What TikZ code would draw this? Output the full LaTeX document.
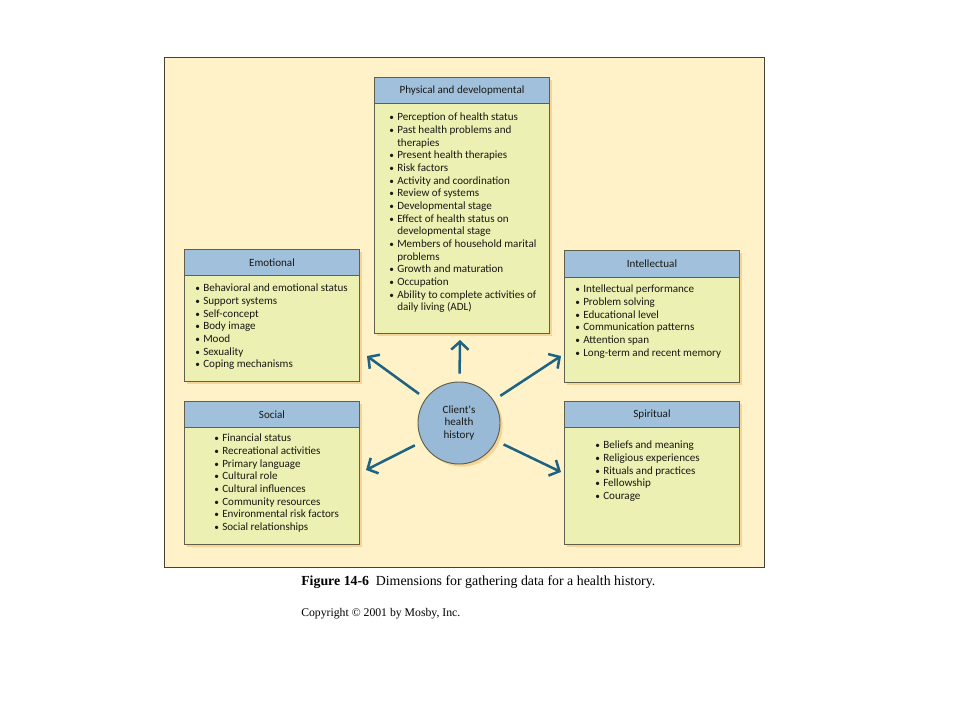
\documentclass[tikz,border=0pt]{standalone}
\usepackage{fontspec}
\setmainfont{Liberation Serif}
\newfontfamily\fut{Carlito}
\usetikzlibrary{arrows.meta,shadows}
\definecolor{bg}{RGB}{255,242,200}
\definecolor{bodyc}{RGB}{236,240,178}
\definecolor{headc}{RGB}{160,192,220}
\definecolor{circc}{RGB}{152,186,215}
\definecolor{edgec}{RGB}{95,95,75}
\definecolor{arrc}{RGB}{30,100,130}
\definecolor{shadc}{RGB}{246,212,150}
\definecolor{txtc}{RGB}{25,25,20}
\newcommand{\bl}{\makebox[6pt][l]{\raisebox{0pt}{\scriptsize\textbullet}}}
\newcommand{\cn}{\hspace*{6pt}}
\begin{document}
\begin{tikzpicture}[x=0.75pt,y=-0.75pt,
  panel/.style={draw=edgec,fill=bodyc,line width=0.7pt,anchor=north west,inner sep=0pt,
     minimum width=131.25pt,drop shadow={shadow xshift=2.2pt,shadow yshift=-2.2pt,fill=shadc,opacity=1}},
  header/.style={draw=edgec,fill=headc,line width=0.7pt,anchor=north west,inner sep=0pt,text=txtc,
     minimum width=131.25pt,font=\fut\fontsize{8.3}{9.5}\selectfont},
  items/.style={anchor=north west,inner sep=0pt,align=left,text=txtc,font=\fut\fontsize{8.3}{9.5}\selectfont},
  arr/.style={draw=arrc,line width=1.9pt,-{Straight Barb[length=6pt,width=13pt,line width=1.9pt]},shorten <=6pt}]
\useasboundingbox (0,0) rectangle (960,720);
\fill[white] (0,0) rectangle (960,720);
% frame
\node (frame) [draw=edgec!70!black,fill=bg,line width=1pt,anchor=north west,inner sep=0pt,
   minimum width=450pt,minimum height=382.5pt] at (164,57) {};
% Physical
\node (phys) [panel,minimum height=192pt] at (374,77) {};
\node (physh) [header,minimum height=19.5pt] at (374,77) {Physical and developmental};
\node (physl) [items] at (389,113) {\bl Perception of health status\\
\bl Past health problems and\\ \cn therapies\\
\bl Present health therapies\\
\bl Risk factors\\
\bl Activity and coordination\\
\bl Review of systems\\
\bl Developmental stage\\
\bl Effect of health status on\\ \cn developmental stage\\
\bl Members of household marital\\ \cn problems\\
\bl Growth and maturation\\
\bl Occupation\\
\bl Ability to complete activities of\\ \cn daily living (ADL)};
% Emotional
\node (emo) [panel,minimum height=99pt] at (184,249) {};
\node (emoh) [header,minimum height=19.5pt] at (184,249) {Emotional};
\node (emol) [items] at (195,284) {\bl Behavioral and emotional status\\
\bl Support systems\\ \bl Self-concept\\ \bl Body image\\ \bl Mood\\ \bl Sexuality\\ \bl Coping mechanisms};
% Intellectual
\node (intl) [panel,minimum height=99pt] at (564,250) {};
\node (inth) [header,minimum height=20.25pt] at (564,250) {Intellectual};
\node (intll) [items] at (575,285) {\bl Intellectual performance\\ \bl Problem solving\\ \bl Educational level\\
\bl Communication patterns\\ \bl Attention span\\ \bl Long-term and recent memory};
% Social
\node (soc) [panel,minimum height=107.25pt] at (184,401) {};
\node (soch) [header,minimum height=19.5pt] at (184,401) {Social};
\node (socl) [items] at (214,434) {\bl Financial status\\ \bl Recreational activities\\ \bl Primary language\\
\bl Cultural role\\ \bl Cultural influences\\ \bl Community resources\\ \bl Environmental risk factors\\ \bl Social relationships};
% Spiritual
\node (spi) [panel,minimum height=107.25pt] at (564,401) {};
\node (spih) [header,minimum height=19.5pt] at (564,401) {Spiritual};
\node (spil) [items] at (595,441) {\bl Beliefs and meaning\\ \bl Religious experiences\\ \bl Rituals and practices\\
\bl Fellowship\\ \bl Courage};
% centre
\node (client) [circle,draw=edgec,fill=circc,line width=0.7pt,minimum size=61.5pt,inner sep=0pt,align=center,
   text=txtc,font=\fut\fontsize{8.3}{9.5}\selectfont,
   drop shadow={shadow xshift=2pt,shadow yshift=-2pt,fill=shadc,opacity=1}] at (459,423) {Client's\\health\\history};
\coordinate (tup) at (460,340);
\coordinate (tul) at (367,356);
\coordinate (tur) at (561,356);
\coordinate (tll) at (366,470);
\coordinate (tlr) at (561,472);
\draw[arr] (client) -- (tup);
\draw[arr] (client) -- (tul);
\draw[arr] (client) -- (tur);
\draw[arr] (client) -- (tll);
\draw[arr] (client) -- (tlr);
% caption
\node (cap) [anchor=base west,inner sep=0pt,font=\fontsize{10.4}{12}\selectfont] at (301,585)
  {\textbf{Figure 14-6}\hspace{5pt}Dimensions for gathering data for a health history.};
\node (copy) [anchor=base west,inner sep=0pt,font=\fontsize{8.8}{10}\selectfont] at (301,616)
  {Copyright \textcopyright{} 2001 by Mosby, Inc.};
\end{tikzpicture}
\end{document}
